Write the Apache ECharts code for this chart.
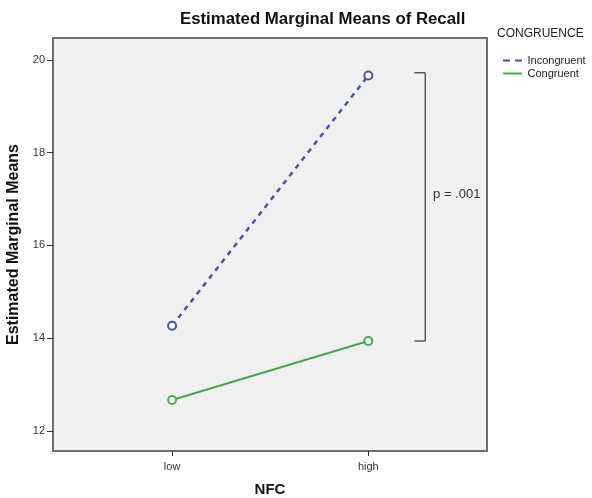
<!DOCTYPE html>
<html>
<head>
<meta charset="utf-8">
<script src="https://cdn.jsdelivr.net/npm/echarts@6/dist/echarts.min.js"></script>
<style>
  html, body { margin: 0; padding: 0; background: #fff; }
  #chart { width: 592px; height: 498px; }
</style>
</head>
<body>
<div id="chart"></div>
<script>
// data
const categories = ['low', 'high'];
const incongruent = [14.27, 19.66];
const congruent = [12.67, 13.94];
const yTicks = [12, 14, 16, 18, 20];
const pLabel = 'p = .001';

const myChart = echarts.init(document.getElementById('chart'));
const font = '"Liberation Sans", Arial, sans-serif';

const option = {
  animation: false,
  textStyle: { fontFamily: font },
  title: {
    text: 'Estimated Marginal Means of Recall',
    left: 175,
    top: 6,
    textStyle: { fontSize: 16.8, fontWeight: 'bold', color: '#111', fontFamily: font }
  },
  legend: {
    orient: 'vertical',
    left: 498,
    top: 50,
    itemWidth: 20,
    itemHeight: 2,
    itemGap: 2,
    textStyle: { fontSize: 11, color: '#222', fontFamily: font },
    data: [
      { name: 'Incongruent', icon: 'path://M0,0h7v2h-7zM12,0h7v2h-7z' },
      { name: 'Congruent', icon: 'path://M0,0h19v2h-19z' }
    ]
  },
  graphic: [{
    type: 'text',
    left: 497,
    top: 28,
    style: { text: 'CONGRUENCE', fontSize: 12, fill: '#222', fontFamily: font }
  }],
  grid: {
    left: 53, top: 38, right: 105, bottom: 47,
    outerBoundsMode: 'none',
    containLabel: false,
    show: true,
    backgroundColor: '#f0f0f0',
    borderColor: '#707070',
    borderWidth: 2
  },
  xAxis: {
    type: 'value',
    min: -0.607,
    max: 1.605,
    name: 'NFC',
    nameLocation: 'middle',
    nameGap: 31,
    nameTextStyle: { fontSize: 15, fontWeight: 'bold', color: '#111' },
    axisLine: { show: false, onZero: false },
    splitLine: { show: false },
    axisTick: { show: true, customValues: [0, 1], length: 5, lineStyle: { color: '#333' } },
    axisLabel: {
      customValues: [0, 1],
      fontSize: 11, color: '#333', margin: 10,
      formatter: v => categories[Math.round(v)]
    }
  },
  yAxis: {
    type: 'value',
    min: 11.57,
    max: 20.47,
    name: 'Estimated Marginal Means',
    nameLocation: 'middle',
    nameRotate: 90,
    nameGap: 28,
    nameTextStyle: { fontSize: 16, fontWeight: 'bold', color: '#111' },
    axisLine: { show: false, onZero: false },
    splitLine: { show: false },
    axisTick: { show: true, customValues: yTicks, length: 6, lineStyle: { color: '#333' } },
    axisLabel: { customValues: yTicks, fontSize: 11, color: '#333', margin: 8 }
  },
  series: [
    {
      name: 'Incongruent',
      type: 'line',
      data: incongruent.map((v, i) => [i, v]),
      symbol: 'emptyCircle',
      symbolSize: 8,
      color: '#4656a8',
      lineStyle: { width: 2.5, type: [5, 5], color: '#4656a8' },
      itemStyle: { color: '#4656a8', borderWidth: 1 }
    },
    {
      name: 'Congruent',
      type: 'line',
      data: congruent.map((v, i) => [i, v]),
      symbol: 'emptyCircle',
      symbolSize: 8,
      color: '#45a84d',
      lineStyle: { width: 2, color: '#45a84d' },
      itemStyle: { color: '#45a84d', borderWidth: 1 }
    }
  ]
};

myChart.setOption(option);

// bracket between the two "high" means, placed with the chart's own scales
function drawBracket() {
  const top = myChart.convertToPixel({ gridIndex: 0 }, [1.29, incongruent[1] + 0.06]);
  const bot = myChart.convertToPixel({ gridIndex: 0 }, [1.29, congruent[1]]);
  const tickL = myChart.convertToPixel({ gridIndex: 0 }, [1.235, 0])[0];
  const txt = myChart.convertToPixel({ gridIndex: 0 }, [1.33, (incongruent[1] + congruent[1]) / 2 + 0.29]);
  myChart.setOption({
    graphic: [
      option.graphic[0],
      {
        type: 'polyline',
        shape: { points: [[tickL, top[1]], [top[0], top[1]], [bot[0], bot[1]], [tickL, bot[1]]] },
        style: { stroke: '#111', lineWidth: 1, fill: null }
      },
      {
        type: 'text',
        x: txt[0], y: txt[1],
        style: { text: pLabel, fontSize: 13, fill: '#333', fontFamily: font, verticalAlign: 'middle' }
      }
    ]
  });
}
drawBracket();
</script>
</body>
</html>
